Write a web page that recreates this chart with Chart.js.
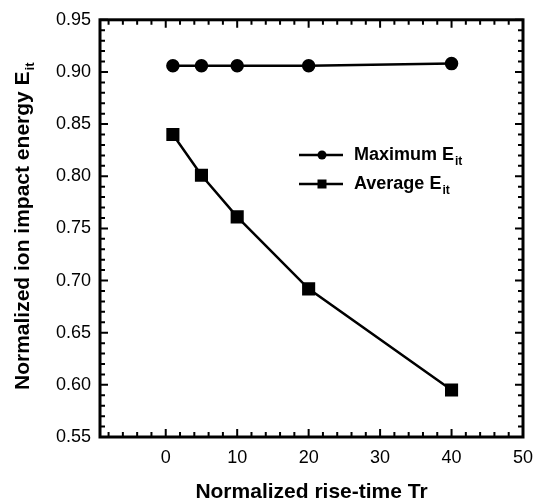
<!DOCTYPE html>
<html>
<head>
<meta charset="utf-8">
<script src="https://cdn.jsdelivr.net/npm/chart.js@4/dist/chart.umd.min.js"></script>
<style>
	html, body { margin: 0; padding: 0; background: #fff; }
	#wrap { width: 548px; height: 501px; }
</style>
</head>
<body>
<div id="wrap"><canvas id="riseChart"></canvas></div>
<script>
// Data.
const riseTimes = [1, 5, 10, 20, 40];
const maxEnergy = [0.906, 0.906, 0.906, 0.906, 0.908];
const avgEnergy = [0.840, 0.801, 0.761, 0.692, 0.595];
const xTicks = [0, 10, 20, 30, 40, 50];
const yTicks = [0.55, 0.60, 0.65, 0.70, 0.75, 0.80, 0.85, 0.90, 0.95];
const seriesNames = ["Maximum E", "Average E"];
const seriesSub = "it";

const FONT = "'Liberation Sans', Arial, Helvetica, sans-serif";

// Border, inward ticks, axis titles and the legend (with subscripts).
const framePlugin = {
	id: 'frame',
	afterDraw(chart) {
		const ctx = chart.ctx;
		const a = chart.chartArea;
		const xs = chart.scales.x;
		const ys = chart.scales.y;
		ctx.save();
		ctx.strokeStyle = '#000';

		// inward ticks, x
		ctx.lineWidth = 2;
		for (let v = -8; v <= 50; v += 2) {
			const px = xs.getPixelForValue(v);
			const len = (v % 10 === 0) ? 8 : 5;
			ctx.beginPath();
			ctx.moveTo(px, a.bottom); ctx.lineTo(px, a.bottom - len);
			ctx.moveTo(px, a.top); ctx.lineTo(px, a.top + len);
			ctx.stroke();
		}
		// inward ticks, y
		for (let i = 55; i <= 95; i++) {
			const py = ys.getPixelForValue(i / 100);
			const len = (i % 5 === 0) ? 8 : 5;
			ctx.beginPath();
			ctx.moveTo(a.left, py); ctx.lineTo(a.left + len, py);
			ctx.moveTo(a.right, py); ctx.lineTo(a.right - len, py);
			ctx.stroke();
		}

		// frame
		ctx.lineWidth = 3;
		ctx.strokeRect(a.left, a.top, a.right - a.left, a.bottom - a.top);

		// x title
		ctx.fillStyle = '#000';
		ctx.font = "bold 21px " + FONT;
		ctx.textAlign = 'center';
		ctx.textBaseline = 'alphabetic';
		ctx.fillText('Normalized rise-time Tr', (a.left + a.right) / 2, 498);

		// y title, rotated, with subscript
		ctx.save();
		ctx.translate(29, 390);
		ctx.rotate(-Math.PI / 2);
		ctx.textAlign = 'left';
		const yTitle = 'Normalized ion impact energy E';
		ctx.font = "bold 21px " + FONT;
		ctx.fillText(yTitle, 0, 0);
		const w = ctx.measureText(yTitle).width;
		ctx.font = "bold 13px " + FONT;
		ctx.fillText(seriesSub, w + 1, 5);
		ctx.restore();

		// legend
		const rows = [155, 184];
		chart.data.datasets.forEach((ds, i) => {
			const y = rows[i];
			ctx.lineWidth = 2.5;
			ctx.beginPath();
			ctx.moveTo(299, y); ctx.lineTo(343, y);
			ctx.stroke();
			ctx.fillStyle = '#000';
			if (ds.pointStyle === 'circle') {
				ctx.beginPath();
				ctx.arc(322, y, 4.5, 0, Math.PI * 2);
				ctx.fill();
			} else {
				ctx.fillRect(317.5, y - 4.5, 9, 9);
			}
			ctx.textAlign = 'left';
			ctx.textBaseline = 'middle';
			ctx.font = "bold 18px " + FONT;
			ctx.fillText(seriesNames[i], 354, y);
			const tw = ctx.measureText(seriesNames[i]).width;
			ctx.font = "bold 12px " + FONT;
			ctx.fillText(seriesSub, 354 + tw + 1, y + 7);
		});
		ctx.restore();
	}
};

new Chart(document.getElementById('riseChart').getContext('2d'), {
	type: 'line',
	data: {
		datasets: [
			{
				label: seriesNames[0],
				data: riseTimes.map((x, i) => ({ x: x, y: maxEnergy[i] })),
				borderColor: '#000',
				backgroundColor: '#000',
				borderWidth: 2.5,
				pointStyle: 'circle',
				pointRadius: 5.5,
				tension: 0
			},
			{
				label: seriesNames[1],
				data: riseTimes.map((x, i) => ({ x: x, y: avgEnergy[i] })),
				borderColor: '#000',
				backgroundColor: '#000',
				borderWidth: 2.5,
				pointStyle: 'rect',
				pointRadius: 7.5,
				tension: 0
			}
		]
	},
	options: {
		responsive: true,
		maintainAspectRatio: false,
		animation: false,
		layout: { padding: { left: 0, right: 25, top: 17, bottom: 0 } },
		plugins: {
			legend: { display: false },
			tooltip: { enabled: false }
		},
		scales: {
			x: {
				type: 'linear',
				min: -9.2,
				max: 50,
				afterBuildTicks: axis => { axis.ticks = xTicks.map(v => ({ value: v })); },
				afterFit: axis => { axis.height = 64; },
				grid: { display: false, drawTicks: false },
				border: { display: false },
				ticks: {
					padding: 10,
					color: '#000',
					font: { family: FONT, size: 18 },
					callback: v => String(v)
				}
			},
			y: {
				type: 'linear',
				min: 0.55,
				max: 0.95,
				afterBuildTicks: axis => { axis.ticks = yTicks.map(v => ({ value: v })); },
				afterFit: axis => { axis.width = 100; },
				grid: { display: false, drawTicks: false },
				border: { display: false },
				ticks: {
					padding: 9,
					color: '#000',
					font: { family: FONT, size: 18 },
					callback: v => v.toFixed(2)
				}
			}
		}
	},
	plugins: [framePlugin]
});
</script>
</body>
</html>
